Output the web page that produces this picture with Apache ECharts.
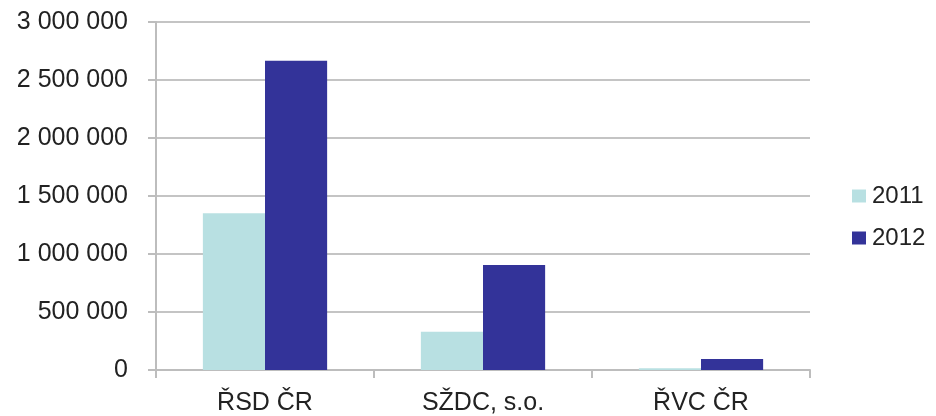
<!DOCTYPE html>
<html>
<head>
<meta charset="utf-8">
<title>Chart</title>
<script src="https://cdn.jsdelivr.net/npm/echarts@6/dist/echarts.min.js"></script>
<style>
  html, body { margin: 0; padding: 0; background: #fff; }
  #chart { width: 936px; height: 416px; }
</style>
</head>
<body>
<div id="chart"></div>
<script type="text/javascript">
var categories = ['ŘSD ČR', 'SŽDC, s.o.', 'ŘVC ČR'];
var years = ['2011', '2012'];
var values2011 = [1352000, 330000, 15000];
var values2012 = [2665000, 905000, 95000];

// thousands separated by a space, like the czech excel chart
function fmt(v) {
    return String(v).replace(/\B(?=(\d{3})+(?!\d))/g, ' ');
}

var chart = echarts.init(document.getElementById('chart'));
var option = {
    animation: false,
    textStyle: { fontFamily: 'Liberation Sans, Arial, sans-serif' },
    grid: { left: 156, right: 126, top: 22, bottom: 45 },
    legend: {
        orient: 'vertical',
        left: 847,
        top: 179,
        itemWidth: 14,
        itemHeight: 13,
        itemGap: 18,
        icon: 'rect',
        data: years,
        textStyle: { fontSize: 24, color: '#222', padding: [0, 0, 0, 1] }
    },
    xAxis: {
        type: 'category',
        data: categories,
        axisLine: { lineStyle: { color: '#bdbdbd', width: 2 } },
        axisTick: { show: true, length: 8, lineStyle: { color: '#bdbdbd', width: 2 } },
        axisLabel: { fontSize: 25, color: '#222', margin: 21 }
    },
    yAxis: {
        type: 'value',
        min: 0,
        max: 3000000,
        interval: 500000,
        axisLine: { show: true, lineStyle: { color: '#bdbdbd', width: 2 } },
        axisTick: { show: true, length: 8, lineStyle: { color: '#bdbdbd', width: 2 } },
        splitLine: { lineStyle: { color: '#c4c4c4', width: 2 } },
        axisLabel: {
            fontSize: 25,
            color: '#222',
            margin: 28,
            formatter: fmt
        }
    },
    series: [
        {
            name: years[0],
            type: 'bar',
            data: values2011,
            barGap: '0%',
            barCategoryGap: '43%',
            itemStyle: { color: '#b8e0e2' }
        },
        {
            name: years[1],
            type: 'bar',
            data: values2012,
            barGap: '0%',
            barCategoryGap: '43%',
            itemStyle: { color: '#333399' }
        }
    ]
};
chart.setOption(option);
</script>
</body>
</html>
